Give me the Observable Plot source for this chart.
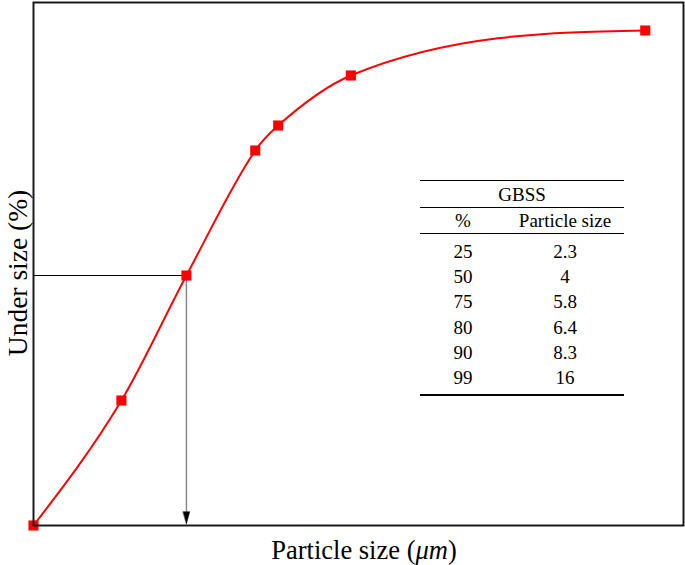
<!DOCTYPE html>
<html>
<head>
<meta charset="utf-8">
<script src="https://cdn.jsdelivr.net/npm/d3@7"></script>
<script src="https://cdn.jsdelivr.net/npm/@observablehq/plot@0.6"></script>
<style>
  html, body { margin: 0; padding: 0; background: #fff; }
  #wrap { position: relative; width: 685px; height: 565px; font-family: "Liberation Serif", "Times New Roman", serif; }
  #wrap svg { display: block; }
  #tbl { position: absolute; left: 420px; top: 180px; width: 204px; border-collapse: collapse; font-size: 19px; color: #000; }
  #tbl td { padding: 0; text-align: center; line-height: 25px; }
  #tbl tr.title td { border-top: 1px solid #000; border-bottom: 1px solid #000; height: 26px; }
  #tbl tr.head td { border-bottom: 1px solid #000; height: 25px; }
  #tbl tr.row td { height: 25.2px; }
  #tbl tr.first td { padding-top: 5px; }
  #tbl tr.last td { border-bottom: 2px solid #000; padding-bottom: 4px; }
</style>
</head>
<body>
<div id="wrap"></div>
<script>
// Cumulative particle size distribution (GBSS)
const sizes    = [0, 2.3, 4, 5.8, 6.4, 8.3, 16];      // particle size (µm)
const percents = [0, 25, 50, 75, 80, 90, 99];          // under size (%)

// Table contents
const tableTitle   = "GBSS";
const tableHeaders = ["%", "Particle size"];
const tablePercent = ["25", "50", "75", "80", "90", "99"];
const tableSize    = ["2.3", "4", "5.8", "6.4", "8.3", "16"];

// Median guide (D50)
const medianSize = 4;
const medianPercent = 50;

const xLabel = "Particle size (";
const xUnit = "μm";
const yLabel = "Under size (%)";

const data = sizes.map((s, i) => ({size: s, pct: percents[i]}));

// Smooth spline curve: cubic Hermite with tangents = mean of adjacent secants
function SplineCurve(context) { this._context = context; }
SplineCurve.prototype = {
  areaStart() {}, areaEnd() {},
  lineStart() { this._x = []; this._y = []; },
  point(x, y) { this._x.push(+x); this._y.push(+y); },
  lineEnd() {
    const X = this._x, Y = this._y, n = X.length, c = this._context;
    if (!n) return;
    c.moveTo(X[0], Y[0]);
    if (n === 2) { c.lineTo(X[1], Y[1]); return; }
    const s = [], m = [];
    for (let i = 0; i < n - 1; i++) s.push((Y[i + 1] - Y[i]) / (X[i + 1] - X[i]));
    for (let i = 1; i < n - 1; i++) m[i] = (s[i - 1] + s[i]) / 2;
    m[0] = (3 * s[0] - m[1]) / 2;
    m[n - 1] = (3 * s[n - 2] - m[n - 2]) / 2;
    for (let i = 0; i < n - 1; i++) {
      const h = (X[i + 1] - X[i]) / 3;
      c.bezierCurveTo(X[i] + h, Y[i] + h * m[i], X[i + 1] - h, Y[i + 1] - h * m[i + 1], X[i + 1], Y[i + 1]);
    }
  }
};
const splineCurve = (context) => new SplineCurve(context);

const arrowHead = {
  draw(context, l) {
    context.moveTo(0, -l);
    context.lineTo(-3.3, 0);
    context.lineTo(3.3, 0);
    context.closePath();
  }
};

const chart = Plot.plot({
  width: 685,
  height: 565,
  marginLeft: 33,
  marginRight: 2,
  marginTop: 2,
  marginBottom: 40,
  x: {domain: [0, 17], axis: null},
  y: {domain: [0, 104.6], axis: null},
  style: {background: "transparent", fontFamily: "Liberation Serif, serif"},
  marks: [
    Plot.ruleY([medianPercent], {x1: 0, x2: medianSize, stroke: "#000", strokeWidth: 1}),
    Plot.ruleX([medianSize], {y1: medianPercent, y2: 1.5, stroke: "#888", strokeWidth: 1.5}),
    Plot.vector([{x: medianSize, y: 0.35}], {x: "x", y: "y", length: 12, rotate: 180, anchor: "end", shape: arrowHead, fill: "#000", stroke: "#000", strokeWidth: 0.5}),
    Plot.line(data, {x: "size", y: "pct", curve: splineCurve, stroke: "#ff0000", strokeWidth: 2}),
    Plot.dot(data, {x: "size", y: "pct", symbol: "square", r: 5.7, fill: "#ff0000", stroke: "none"}),
    Plot.frame({stroke: "#1a1a1a", strokeWidth: 2})
  ]
});

const wrap = document.getElementById("wrap");
wrap.appendChild(chart);

// Axis titles
const svg = d3.select(chart);
const xt = svg.append("text")
  .attr("x", 364).attr("y", 559)
  .attr("text-anchor", "middle")
  .attr("font-family", "Liberation Serif, serif")
  .attr("font-size", 26.5)
  .attr("fill", "#000");
xt.append("tspan").text(xLabel);
xt.append("tspan").attr("font-style", "italic").text(xUnit);
xt.append("tspan").text(")");

svg.append("text")
  .attr("transform", "translate(27,273) rotate(-90)")
  .attr("text-anchor", "middle")
  .attr("font-family", "Liberation Serif, serif")
  .attr("font-size", 27.5)
  .attr("fill", "#000")
  .text(yLabel);

// Table
const table = d3.select(wrap).append("table").attr("id", "tbl");
table.append("tr").attr("class", "title").append("td").attr("colspan", 2).text(tableTitle);
const head = table.append("tr").attr("class", "head");
head.append("td").style("width", "86px").text(tableHeaders[0]);
head.append("td").style("width", "118px").text(tableHeaders[1]);
tablePercent.forEach((p, i) => {
  const tr = table.append("tr").attr("class", "row" + (i === 0 ? " first" : "") + (i === tablePercent.length - 1 ? " last" : ""));
  tr.append("td").text(p);
  tr.append("td").text(tableSize[i]);
});
</script>
</body>
</html>
